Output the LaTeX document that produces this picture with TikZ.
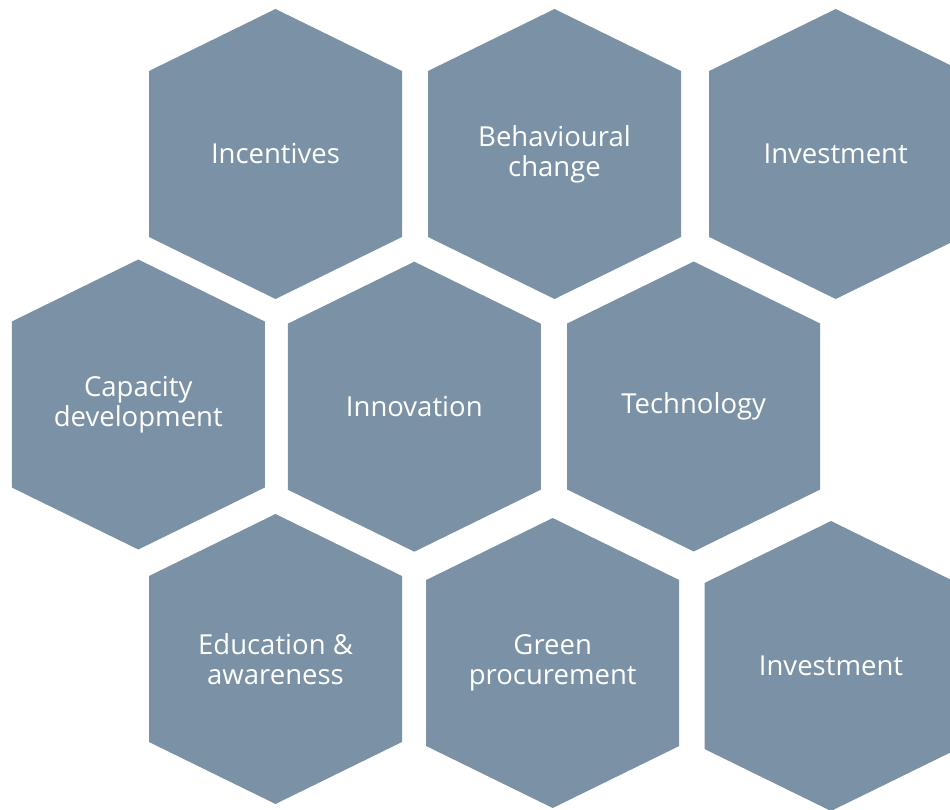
\documentclass[tikz,border=0pt]{standalone}
\usepackage{fontspec}
\setmainfont{Open Sans}
\definecolor{hexblue}{RGB}{123,146,166}
\newcommand{\hexcell}[4]{%
  \fill[hexfill] (#2,#3) ++(-126.5,-83) -- ++(126.5,-62) -- ++(126.5,62) -- ++(0,166) -- ++(-126.5,62) -- ++(-126.5,-62) -- cycle;
  \node[hexlabel] (#1) at (#2,#3) {#4};
}
\begin{document}
\begin{tikzpicture}[x=1pt,y=-1pt,
  hexfill/.style={fill=hexblue},
  hexlabel/.style={text=white,align=center,inner sep=0pt,font=\fontsize{27.5}{30}\selectfont}]
\useasboundingbox (0,0) rectangle (950,810);
\clip (0,0) rectangle (950,810);
\hexcell{incentives}{275.5}{154}{Incentives}
\hexcell{behaviour}{554.5}{154}{Behavioural\\change}
\hexcell{investA}{835.7}{154}{Investment}
\hexcell{capacity}{138.3}{404.5}{Capacity\\development}
\hexcell{innovation}{414.3}{406.7}{Innovation}
\hexcell{technology}{693.7}{406.5}{Technology}
\hexcell{education}{275.5}{659}{Education \&\\awareness}
\hexcell{green}{552.7}{663}{Green\\procurement}
\hexcell{investB}{831}{666}{Investment}
\end{tikzpicture}
\end{document}
